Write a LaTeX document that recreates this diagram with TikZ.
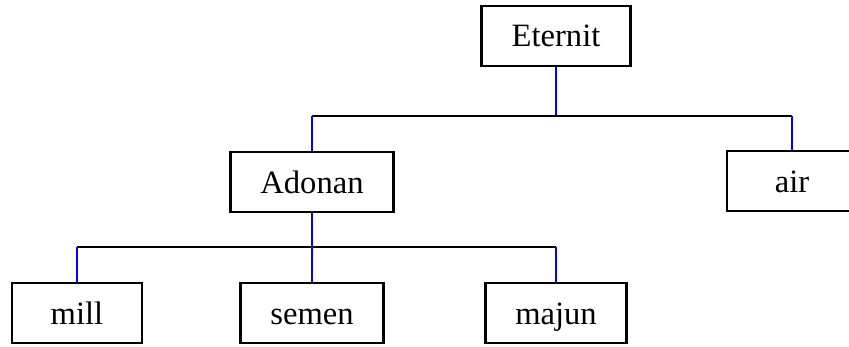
\documentclass[tikz,border=0pt]{standalone}
\usepackage{fontspec}
\setmainfont{Liberation Serif}
\begin{document}
\begin{tikzpicture}[x=0.5pt,y=-0.5pt,
    box/.style={draw,line width=1.3pt,minimum width=65pt,minimum height=30pt,
      inner xsep=15pt,text height=13pt,text depth=2pt,
      font=\fontsize{16.3}{19}\selectfont},
    vline/.style={blue,line width=0.8pt},
    hline/.style={black,line width=0.8pt}]
  \useasboundingbox (0,0) rectangle (849,347);
        \node[box] (eternit) at (556,36) {Eternit};
        %%
        \node[box] (adonan) at (312,182) {Adonan};
        \node[box] (air) at (792,181) {air};
        %%
        \node[box] (mill) at (77,313) {mill};
        \node[box] (semen) at (312,313) {semen};
        \node[box] (majun) at (556,313) {majun};
        \coordinate (top bar) at (556,116);
        \coordinate (low bar) at (312,247);
        %%
        \draw[vline] (eternit.south) -- (top bar);
        \draw[hline] (adonan |- top bar) -- (air |- top bar);
        \draw[vline] (adonan |- top bar) -- (adonan.north);
        \draw[vline] (air |- top bar) -- (air.north);
        %%
        \draw[hline] (mill |- low bar) -- (majun |- low bar);
        \draw[vline] (adonan.south) -- (semen.north);
        \draw[vline] (mill |- low bar) -- (mill.north);
        \draw[vline] (majun |- low bar) -- (majun.north);
\end{tikzpicture}
\end{document}
